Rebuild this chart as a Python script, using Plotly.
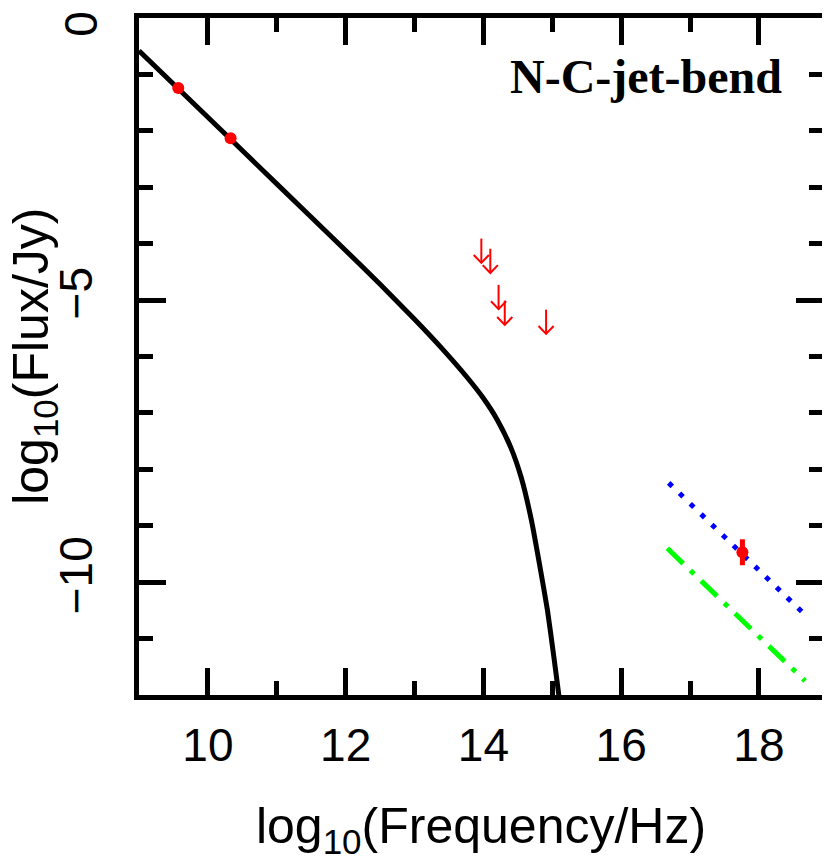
import plotly.graph_objects as go

# synchrotron model curve (log10 nu, log10 flux)
model_x = [9.0, 10.0, 11.0, 12.0, 12.5, 13.0, 13.4, 13.75, 14.0, 14.2, 14.4,
           14.55, 14.7, 14.82, 14.93, 15.02, 15.1, 15.13]
model_y = [-0.58, -1.76, -2.94, -4.12, -4.72, -5.34, -5.86, -6.35, -6.74, -7.12,
           -7.62, -8.15, -8.92, -9.72, -10.5, -11.3, -12.05, -12.35]

# radio detections
radio_x = [9.57, 10.33]
radio_y = [-1.24, -2.13]

# optical / IR upper limits
ul_x = [13.97, 14.10, 14.22, 14.31, 14.91]
ul_y = [-3.91, -4.09, -4.73, -5.01, -5.17]

# X-ray point
xray_x = [17.76]
xray_y = [-9.47]
xray_err = [0.23]

# X-ray power-law extrapolations
blue_x = [16.69, 18.67]
blue_y = [-8.24, -10.58]
green_x = [16.67, 18.67]
green_y = [-9.40, -11.75]

x_ticks = [10, 12, 14, 16, 18]
y_ticks = [0, -5, -10]
y_ticktext = ['', '\u22125', '\u221210']  # "0" is placed separately so it is not clipped

x_range = [9, 18.93]
y_range = [-12, 0]

# arrow geometry (data units)
arrow_len = 0.43
head_w = 0.11
head_h = 0.14

fig = go.Figure()

fig.add_trace(go.Scatter(x=model_x, y=model_y, mode='lines',
                         line=dict(color='black', width=5, shape='spline', smoothing=0.5)))
fig.add_trace(go.Scatter(x=blue_x, y=blue_y, mode='lines',
                         line=dict(color='#0000ff', width=5, dash='5px,10px')))
fig.add_trace(go.Scatter(x=green_x, y=green_y, mode='lines',
                         line=dict(color='#00ff00', width=5, dash='22px,10px,5px,10px')))
fig.add_trace(go.Scatter(x=radio_x, y=radio_y, mode='markers',
                         marker=dict(color='red', size=12)))
fig.add_trace(go.Scatter(x=xray_x, y=xray_y, mode='markers',
                         marker=dict(color='red', size=12),
                         error_y=dict(type='data', array=xray_err, color='red',
                                      thickness=5, width=0)))

# upper-limit arrows
ax, ay = [], []
for x, y in zip(ul_x, ul_y):
    tip = y - arrow_len
    ax += [x, x, None, x - head_w, x, x + head_w, None]
    ay += [y, tip, None, tip + head_h, tip, tip + head_h, None]
fig.add_trace(go.Scatter(x=ax, y=ay, mode='lines', line=dict(color='red', width=2)))

# empty trace so the top / right axes get drawn
fig.add_trace(go.Scatter(x=[None], y=[None], xaxis='x2', yaxis='y2', showlegend=False))

label_font = dict(family='Liberation Sans', size=46, color='black')
title_font = dict(family='Liberation Sans', size=50, color='black')

fig.add_annotation(x=0.943, y=0.913, xref='paper', yref='paper', showarrow=False,
                   text='<b>N-C-jet-bend</b>', xanchor='right', yanchor='middle',
                   font=dict(family='Liberation Serif', size=48, color='black'))
# top "0" label of the y axis
fig.add_annotation(x=-0.085, y=y_ticks[0], xref='paper', yref='y', showarrow=False,
                   text='0', textangle=-90, xanchor='center', yanchor='top', yshift=9,
                   font=label_font)
# y axis title
fig.add_annotation(x=-0.153, y=0.5, xref='paper', yref='paper', showarrow=False,
                   text='log<sub>10</sub>(Flux/Jy)', textangle=-90,
                   xanchor='center', yanchor='middle', font=title_font)

tick_style = dict(ticks='inside', ticklen=27, tickwidth=5, tickcolor='black',
                  showgrid=False, zeroline=False, automargin=False,
                  minor=dict(ticks='inside', ticklen=14, tickwidth=5,
                             tickcolor='black', dtick=1, showgrid=False))

# page body has an 8px margin, so the figure is sized 8px smaller
fig.update_layout(
    width=822, height=853, showlegend=False,
    margin=dict(l=131, r=7, t=10, b=166),
    plot_bgcolor='white', paper_bgcolor='white',
    xaxis=dict(range=x_range, tickvals=x_ticks, tickfont=label_font,
               ticklabelstandoff=6, ticklabeloverflow='allow',
               showline=True, linecolor='black', linewidth=5, mirror=True,
               title=dict(text='log<sub>10</sub>(Frequency/Hz)', standoff=40,
                          font=title_font),
               **tick_style),
    yaxis=dict(range=y_range, tickvals=y_ticks, ticktext=y_ticktext, tickangle=-90,
               tickfont=label_font, ticklabelstandoff=24, ticklabeloverflow='allow',
               showline=True, linecolor='black', linewidth=5, mirror=True,
               **tick_style),
    xaxis2=dict(range=x_range, tickvals=x_ticks, overlaying='x', side='top',
                anchor='y', showticklabels=False, **tick_style),
    yaxis2=dict(range=y_range, tickvals=y_ticks, overlaying='y', side='right',
                anchor='x', showticklabels=False, **tick_style),
)

fig.write_html("out.html")
